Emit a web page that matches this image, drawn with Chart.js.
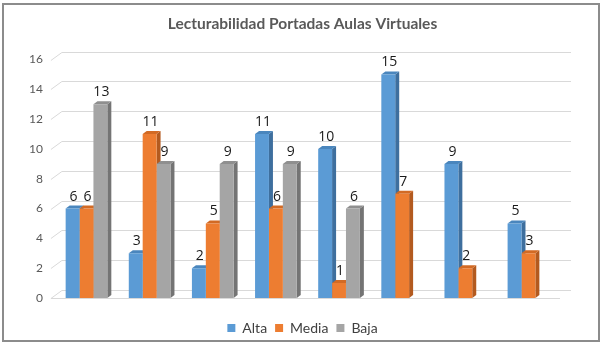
<!DOCTYPE html>
<html>
<head>
<meta charset="utf-8">
<script src="https://cdn.jsdelivr.net/npm/chart.js@4"></script>
<style>
  html, body { margin: 0; padding: 0; background: #fff; }
  #wrap { position: relative; width: 605px; height: 346px; }
  #frame {
    position: absolute; left: 2px; top: 3px; width: 594px; height: 335px;
    border: 2px solid #8c8c8c; pointer-events: none;
  }
</style>
</head>
<body>
<div id="wrap">
  <canvas id="barChart" width="605" height="346"></canvas>
  <div id="frame"></div>
</div>
<script>
var categorias = ["1", "2", "3", "4", "5", "6", "7", "8"];
var alta = [6, 3, 2, 11, 10, 15, 9, 5];
var media = [6, 11, 5, 6, 1, 7, 2, 3];
var baja = [13, 9, 9, 9, 6, null, null, null];
var ticksY = [0, 2, 4, 6, 8, 10, 12, 14, 16];

var cores = ["#5b9bd5", "#ed7d31", "#a5a5a5"];
var coresLado = ["#3e6f9e", "#b35a1f", "#747474"];
var coresTopo = ["#4a86bd", "#d26a24", "#8f8f8f"];

// profundidade das barras e da parede de fundo
var prof = { x: 4, y: -3 };
var parede = { x: 11, y: -8 };

var efeito3d = {
  id: "efeito3d",
  beforeDatasetsDraw(chart) {
    var ctx = chart.ctx;
    var area = chart.chartArea;
    var y = chart.scales.y;

    ctx.save();
    ctx.strokeStyle = "#d9d9d9";
    ctx.lineWidth = 1;

    ticksY.forEach(function (v) {
      var py = Math.round(y.getPixelForValue(v)) + 0.5;
      ctx.beginPath();
      ctx.moveTo(area.left - 4, py);
      ctx.lineTo(area.left - 4 + parede.x, py + parede.y);
      ctx.lineTo(area.right + parede.x, py + parede.y);
      ctx.stroke();
    });

    // linha frontal do piso
    var p0 = Math.round(y.getPixelForValue(0)) + 0.5;
    ctx.beginPath();
    ctx.moveTo(area.left - 4, p0);
    ctx.lineTo(area.right, p0);
    ctx.stroke();

    // laterais e topos
    chart.data.datasets.forEach(function (ds, di) {
      var meta = chart.getDatasetMeta(di);
      meta.data.forEach(function (bar, i) {
        if (ds.data[i] === null) return;
        var p = bar.getProps(["x", "y", "base", "width"], true);
        var l = p.x - p.width / 2;
        var r = p.x + p.width / 2;

        ctx.fillStyle = coresLado[di];
        ctx.beginPath();
        ctx.moveTo(r, p.base);
        ctx.lineTo(r + prof.x, p.base + prof.y);
        ctx.lineTo(r + prof.x, p.y + prof.y);
        ctx.lineTo(r, p.y);
        ctx.closePath();
        ctx.fill();

        ctx.fillStyle = coresTopo[di];
        ctx.beginPath();
        ctx.moveTo(l, p.y);
        ctx.lineTo(l + prof.x, p.y + prof.y);
        ctx.lineTo(r + prof.x, p.y + prof.y);
        ctx.lineTo(r, p.y);
        ctx.closePath();
        ctx.fill();
      });
    });
    ctx.restore();
  },

  afterDatasetsDraw(chart) {
    var ctx = chart.ctx;
    ctx.save();
    ctx.fillStyle = "#1a1a1a";
    ctx.font = "14px 'Open Sans', sans-serif";
    ctx.textAlign = "center";
    ctx.textBaseline = "bottom";
    chart.data.datasets.forEach(function (ds, di) {
      var meta = chart.getDatasetMeta(di);
      meta.data.forEach(function (bar, i) {
        if (ds.data[i] === null) return;
        var p = bar.getProps(["x", "y"], true);
        ctx.fillText(String(ds.data[i]), p.x + 1, p.y - 5);
      });
    });
    ctx.restore();
  },
};

new Chart(document.getElementById("barChart"), {
  type: "bar",

  data: {
    labels: categorias,

    datasets: [
      { label: "Alta", data: alta, backgroundColor: cores[0] },
      { label: "Media", data: media, backgroundColor: cores[1] },
      { label: "Baja", data: baja, backgroundColor: cores[2] },
    ],
  },

  options: {
    responsive: false,
    animation: false,

    layout: {
      padding: { left: 25, right: 25, top: 0, bottom: 1 },
    },

    datasets: {
      bar: {
        categoryPercentage: 0.66,
        barPercentage: 1,
        borderWidth: 0,
      },
    },

    plugins: {
      title: {
        display: true,
        text: "Lecturabilidad Portadas Aulas Virtuales",
        color: "#595959",
        font: { family: "Lato", size: 15.5, weight: "bold" },
        padding: { top: 15, bottom: 26 },
      },

      legend: {
        position: "bottom",

        labels: {
          boxWidth: 8,
          boxHeight: 8,
          padding: 8,
          color: "#404040",
          font: { family: "Lato", size: 14 },
        },
      },

      tooltip: { enabled: false },
    },

    scales: {
      x: {
        display: true,
        grid: { display: false },
        border: { display: false },
        ticks: { display: false },
        afterFit: function (scale) {
          scale.height = 15;
        },
      },

      y: {
        min: 0,
        max: 16,
        grid: { display: false },
        border: { display: false },

        ticks: {
          stepSize: 2,
          padding: 4,
          color: "#595959",
          font: { family: "Lato", size: 12 },
        },
      },

      // eixo vazio à direita, só para reservar espaço da parede 3D
      y2: {
        position: "right",
        display: true,
        grid: { display: false },
        border: { display: false },
        ticks: { display: false },
        afterFit: function (scale) {
          scale.width = 20;
        },
      },
    },
  },

  plugins: [efeito3d],
});
</script>
</body>
</html>
